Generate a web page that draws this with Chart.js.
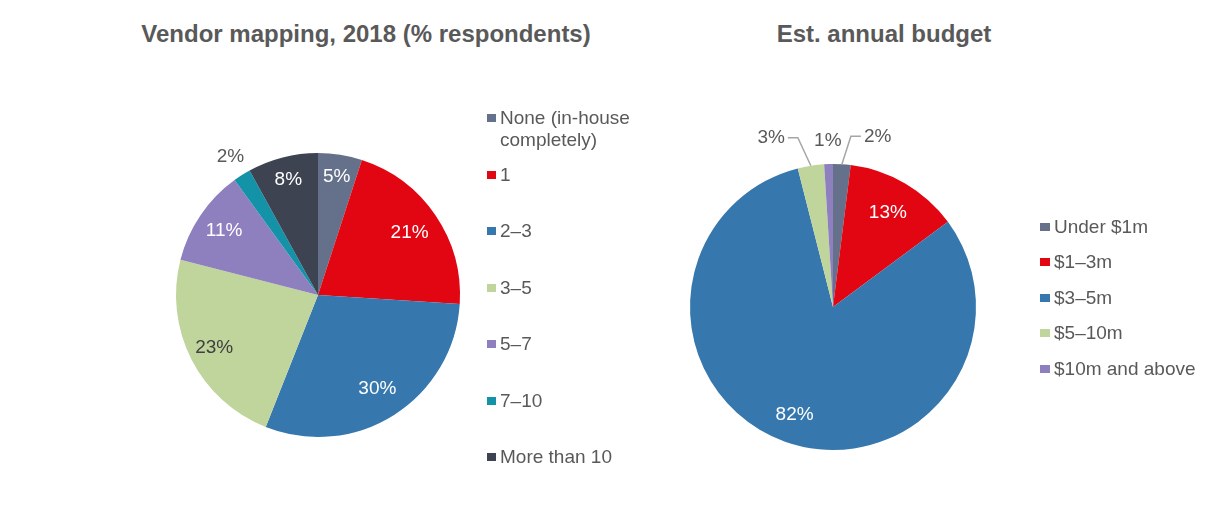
<!DOCTYPE html>
<html>
<head>
<meta charset="utf-8">
<script src="https://cdn.jsdelivr.net/npm/chart.js@4"></script>
<style>
  body { margin: 0; background: #fff; font-family: "Liberation Sans", Arial, sans-serif; color: #595959; }
  #page { position: relative; width: 1224px; height: 526px; overflow: hidden; }
  .pie { position: absolute; top: 0; }
  .title { position: absolute; top: 22px; line-height: 24px; font-size: 24px; font-weight: bold; color: #595959; white-space: nowrap; transform: translateX(-50%); }
  .legend { position: absolute; font-size: 19px; line-height: 22px; color: #595959; }
  .legend .item { position: absolute; left: 0; white-space: nowrap; }
  .legend .sw { position: absolute; left: 0; top: 7px; height: 8px; }
</style>
</head>
<body>
<div id="page">
  <div class="title" style="left:366px">Vendor mapping, 2018 (% respondents)</div>
  <div class="title" style="left:884px">Est. annual budget</div>
  <canvas id="vendorChart" class="pie" style="left:0"></canvas>
  <canvas id="budgetChart" class="pie" style="left:612px"></canvas>
  <div id="vendorLegend" class="legend" style="left:487px; top:107px"></div>
  <div id="budgetLegend" class="legend" style="left:1040px; top:216px"></div>
</div>
<script>
// Vendor mapping, 2018 (% respondents)
const vendorLabels = ['None (in-house completely)', '1', '2–3', '3–5', '5–7', '7–10', 'More than 10'];
const vendorLegendText = ['None (in-house<br>completely)', '1', '2–3', '3–5', '5–7', '7–10', 'More than 10'];
const vendorValues = [5, 21, 30, 23, 11, 2, 8];
const vendorColors = ['#65718a', '#e20613', '#3678ae', '#c0d59c', '#8e7fbf', '#1492a8', '#3e4352'];

// Est. annual budget
const budgetLabels = ['Under $1m', '$1–3m', '$3–5m', '$5–10m', '$10m and above'];
const budgetValues = [2, 13, 82, 3, 1];
const budgetColors = ['#65718a', '#e20613', '#3678ae', '#c0d59c', '#8e7fbf'];

const labelFont = '19px "Liberation Sans", Arial, sans-serif';
const grey = '#595959';

// percentage labels: inside the slice, just outside it, or outside with a leader line
const sliceLabels = {
  id: 'sliceLabels',
  afterDatasetsDraw(chart, args, opts) {
    const ctx = chart.ctx;
    const values = chart.data.datasets[0].data;
    ctx.save();
    ctx.font = labelFont;
    ctx.textBaseline = 'middle';
    chart.getDatasetMeta(0).data.forEach((arc, i) => {
      const p = arc.getProps(['x', 'y', 'startAngle', 'endAngle', 'outerRadius'], true);
      const mid = (p.startAngle + p.endAngle) / 2;
      const cos = Math.cos(mid), sin = Math.sin(mid);
      const s = opts.place[i];
      const text = values[i] + '%';
      ctx.fillStyle = s.color;
      if (s.leader) {
        // edge of the slice, up to an elbow, then a short horizontal run
        const x0 = p.x + cos * p.outerRadius, y0 = p.y + sin * p.outerRadius;
        const ex = x0 + s.dx, ey = y0 - 28;
        const hx = ex + s.leader * 10;
        ctx.strokeStyle = '#a6a6a6';
        ctx.lineWidth = 1.5;
        ctx.beginPath();
        ctx.moveTo(x0, y0);
        ctx.lineTo(ex, ey);
        ctx.lineTo(hx, ey);
        ctx.stroke();
        ctx.textAlign = s.leader > 0 ? 'left' : 'right';
        ctx.fillText(text, hx + s.leader * 3, ey);
      } else {
        ctx.textAlign = 'center';
        const r = p.outerRadius * s.r;
        ctx.fillText(text, p.x + cos * r, p.y + sin * r);
      }
    });
    ctx.restore();
  }
};

function makePie(id, labels, values, colors, padding, place) {
  const canvas = document.getElementById(id);
  canvas.width = 612;
  canvas.height = 526;
  return new Chart(canvas, {
    type: 'pie',
    data: {
      labels: labels,
      datasets: [{
        data: values,
        backgroundColor: colors,
        borderWidth: 0
      }]
    },
    options: {
      responsive: false,
      animation: false,
      layout: { padding: padding },
      plugins: {
        legend: { display: false },
        tooltip: { enabled: false },
        sliceLabels: { place: place }
      }
    },
    plugins: [sliceLabels]
  });
}

function makeLegend(id, texts, colors, spacing, swatch) {
  const box = document.getElementById(id);
  texts.forEach((t, i) => {
    const item = document.createElement('div');
    item.className = 'item';
    item.style.top = (i * spacing) + 'px';
    item.style.paddingLeft = (swatch + 4) + 'px';
    item.innerHTML = '<span class="sw" style="width:' + swatch + 'px;background:' + colors[i] + '"></span>' + t;
    box.appendChild(item);
  });
}

makePie('vendorChart', vendorLabels, vendorValues, vendorColors,
  { left: 176, right: 152, top: 153, bottom: 89 },
  [
    { r: 0.84, color: '#fff' },
    { r: 0.78, color: '#fff' },
    { r: 0.78, color: '#fff' },
    { r: 0.82, color: '#404040' },
    { r: 0.8, color: '#fff' },
    { r: 1.15, color: grey },
    { r: 0.84, color: '#fff' }
  ]);

makePie('budgetChart', budgetLabels, budgetValues, budgetColors,
  { left: 78, right: 248, top: 164, bottom: 76 },
  [
    { leader: 1, dx: 9, color: grey },
    { r: 0.76, color: '#fff' },
    { r: 0.8, color: '#fff' },
    { leader: -1, dx: -13, color: grey },
    { r: 1.16, color: grey }
  ]);

makeLegend('vendorLegend', vendorLegendText, vendorColors, 56.5, 9);
makeLegend('budgetLegend', budgetLabels, budgetColors, 35.4, 10);
</script>
</body>
</html>
